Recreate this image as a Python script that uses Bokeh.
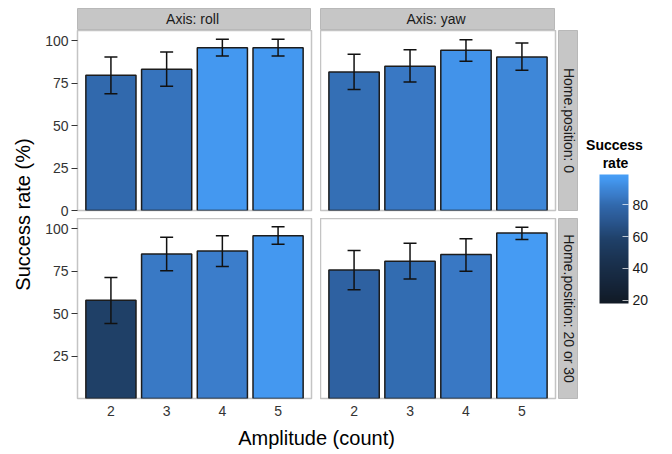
import numpy as np
from bokeh.plotting import figure
from bokeh.layouts import row, column, Spacer
from bokeh.models import (ColumnDataSource, Range1d, FixedTicker, LinearColorMapper,
                          ColorBar, Label, Whisker, TeeHead)
from bokeh.transform import transform
from bokeh.embed import file_html
from bokeh.resources import INLINE

FONT = "Liberation Sans"

# ---- data ----
amplitude = [2, 3, 4, 5]
amplitude_labels = ["2", "3", "4", "5"]
axis_names = ["roll", "yaw"]
home_names = ["0", "20 or 30"]

rate_roll_0 = [79.7, 83.2, 95.9, 95.9]
lo_roll_0 = [68.7, 73.2, 91.0, 91.0]
hi_roll_0 = [90.4, 93.3, 100.9, 100.9]

rate_yaw_0 = [81.6, 84.9, 94.3, 90.4]
lo_yaw_0 = [71.3, 75.6, 87.9, 82.6]
hi_yaw_0 = [92.0, 94.7, 100.6, 98.6]

rate_roll_20 = [57.8, 85.1, 86.9, 95.9]
lo_roll_20 = [44.1, 75.2, 77.7, 90.8]
hi_roll_20 = [71.3, 94.9, 95.9, 101.2]

rate_yaw_20 = [75.6, 80.8, 84.8, 97.4]
lo_yaw_20 = [64.0, 70.3, 75.0, 93.6]
hi_yaw_20 = [87.1, 91.4, 94.1, 100.9]

legend_ticks = [20, 40, 60, 80]
y_ticks_top = [0, 25, 50, 75, 100]
y_ticks_bottom = [25, 50, 75, 100]

# ---- colour scale (styling) ----
anchor_vals = [18, 30, 45, 58, 70, 80, 86, 91, 96, 99]
anchor_cols = ["#111a26", "#15253a", "#1a3250", "#1f4068", "#2a5790",
               "#3169ad", "#3a7bc8", "#3e88da", "#4498f0", "#479ef6"]


def _rgb(h):
    h = h.lstrip("#")
    return [int(h[i:i + 2], 16) for i in (0, 2, 4)]


_cols = np.array([_rgb(c) for c in anchor_cols], dtype=float)
_v = np.linspace(anchor_vals[0], anchor_vals[-1], 256)
palette = []
for vv in _v:
    r, g, b = (np.interp(vv, anchor_vals, _cols[:, k]) for k in range(3))
    palette.append("#%02x%02x%02x" % (int(round(r)), int(round(g)), int(round(b))))

mapper = LinearColorMapper(palette=palette, low=anchor_vals[0], high=anchor_vals[-1])

TICK_COLOR = "#333333"
OUTLINE = "#c4c4c4"
STRIP_FILL = "#c6c6c6"


def panel(rate, lo, hi, width, height, mbl, mbr, mbb, show_x, show_y, yticks):
    p = figure(width=width, height=height, x_range=Range1d(1.4, 5.6), y_range=Range1d(0, 106),
               toolbar_location=None, output_backend="svg",
               x_axis_location="below" if show_x else None,
               y_axis_location="left" if show_y else None,
               min_border_left=mbl, min_border_right=mbr, min_border_top=0, min_border_bottom=mbb,
               outline_line_color=OUTLINE, outline_line_width=1.5, background_fill_color="white")
    p.grid.grid_line_color = None
    src = ColumnDataSource(dict(x=amplitude, rate=rate, lo=lo, hi=hi))
    p.vbar(x="x", top="rate", bottom=0, width=0.9, source=src,
           fill_color=transform("rate", mapper), line_color="#1c1c1c", line_width=1.5)
    w = Whisker(source=src, base="x", upper="hi", lower="lo", line_color="#111111", line_width=1.5,
                upper_head=TeeHead(size=13, line_color="#111111", line_width=1.5),
                lower_head=TeeHead(size=13, line_color="#111111", line_width=1.5))
    w.level = "overlay"
    p.add_layout(w)
    if show_x:
        ax = p.xaxis[0]
        ax.ticker = FixedTicker(ticks=amplitude)
        ax.major_label_overrides = {a: s for a, s in zip(amplitude, amplitude_labels)}
        ax.axis_line_color = None
        ax.major_tick_line_color = None
        ax.minor_tick_line_color = None
        ax.major_tick_out = 0
        ax.major_tick_in = 0
        ax.major_label_standoff = 7
        ax.major_label_text_font = FONT
        ax.major_label_text_font_size = "14px"
        ax.major_label_text_color = TICK_COLOR
    if show_y:
        ay = p.yaxis[0]
        ay.ticker = FixedTicker(ticks=yticks)
        ay.axis_line_color = None
        ay.minor_tick_line_color = None
        ay.major_tick_line_color = TICK_COLOR
        ay.major_tick_out = 6
        ay.major_tick_in = 0
        ay.major_label_standoff = 3
        ay.major_label_text_font = FONT
        ay.major_label_text_font_size = "14px"
        ay.major_label_text_color = TICK_COLOR
    return p


def strip(text, width, height, mbt, mbb, angle=0.0):
    s = figure(width=width, height=height, x_range=Range1d(0, 1), y_range=Range1d(0, 1),
               toolbar_location=None, output_backend="svg",
               x_axis_location=None, y_axis_location=None,
               min_border_left=0, min_border_right=0, min_border_top=mbt, min_border_bottom=mbb,
               background_fill_color=STRIP_FILL, outline_line_color="#b8b8b8", outline_line_width=1)
    s.grid.grid_line_color = None
    s.add_layout(Label(x=0.5, y=0.5, text=text, text_align="center", text_baseline="middle",
                       angle=angle, text_font=FONT, text_font_size="14px", text_color="#1a1a1a"))
    return s


def blank(width, height):
    b = figure(width=width, height=height, x_range=Range1d(0, width), y_range=Range1d(0, height),
               toolbar_location=None, output_backend="svg",
               x_axis_location=None, y_axis_location=None,
               min_border=0, outline_line_color=None)
    b.grid.grid_line_color = None
    return b


H = 454

# strips on top
strip_roll = strip("Axis:  " + axis_names[0], 234, 30, 8, 1)
strip_yaw = strip("Axis:  " + axis_names[1], 235, 30, 8, 1)
top_strips = row(Spacer(width=39, height=30), strip_roll, Spacer(width=9, height=30), strip_yaw,
                 Spacer(width=23, height=30))

# panels
p_tl = panel(rate_roll_0, lo_roll_0, hi_roll_0, 282, 188, 39, 9, 8, False, True, y_ticks_top)
p_tr = panel(rate_yaw_0, lo_yaw_0, hi_yaw_0, 238, 188, 0, 3, 8, False, False, y_ticks_top)
s_r0 = strip("Home.position: " + home_names[0], 20, 188, 0, 8, angle=-np.pi / 2)
p_bl = panel(rate_roll_20, lo_roll_20, hi_roll_20, 282, 205, 39, 9, 25, True, True, y_ticks_bottom)
p_br = panel(rate_yaw_20, lo_yaw_20, hi_yaw_20, 238, 205, 0, 3, 25, True, False, y_ticks_bottom)
s_r1 = strip("Home.position: " + home_names[1], 20, 205, 0, 25, angle=-np.pi / 2)

# x title
xt = blank(540, 31)
xt.add_layout(Label(x=278, y=17, text="Amplitude (count)", text_align="center", text_baseline="middle",
                    text_font=FONT, text_font_size="20px", text_color="#000000"))

middle = column(top_strips, row(p_tl, p_tr, s_r0), row(p_bl, p_br, s_r1), xt)

# y title
yt = blank(38, H)
yt.add_layout(Label(x=22, y=H - 214, text="Success rate (%)", text_align="center", text_baseline="middle",
                    angle=np.pi / 2, text_font=FONT, text_font_size="20px", text_color="#000000"))

# legend
lg = blank(94, H)
lg.add_layout(Label(x=36, y=H - 144, text="Success", text_align="center", text_baseline="middle",
                    text_font=FONT, text_font_size="14px", text_font_style="bold", text_color="#000000"))
lg.add_layout(Label(x=37, y=H - 162, text="rate", text_align="center", text_baseline="middle",
                    text_font=FONT, text_font_size="14px", text_font_style="bold", text_color="#000000"))
cb = ColorBar(color_mapper=mapper, ticker=FixedTicker(ticks=legend_ticks), width=29, height=129,
              location=(21, H - 303), padding=0, label_standoff=4,
              major_label_text_font=FONT, major_label_text_font_size="14px",
              major_label_text_color="#1a1a1a",
              major_tick_line_color="white", major_tick_line_alpha=0.7, major_tick_in=6, major_tick_out=0,
              minor_tick_line_color=None, bar_line_color=None, border_line_color=None,
              background_fill_color=None)
lg.add_layout(cb, "center")

layout = row(yt, middle, lg)

open("out.html", "w").write(file_html(layout, INLINE))
